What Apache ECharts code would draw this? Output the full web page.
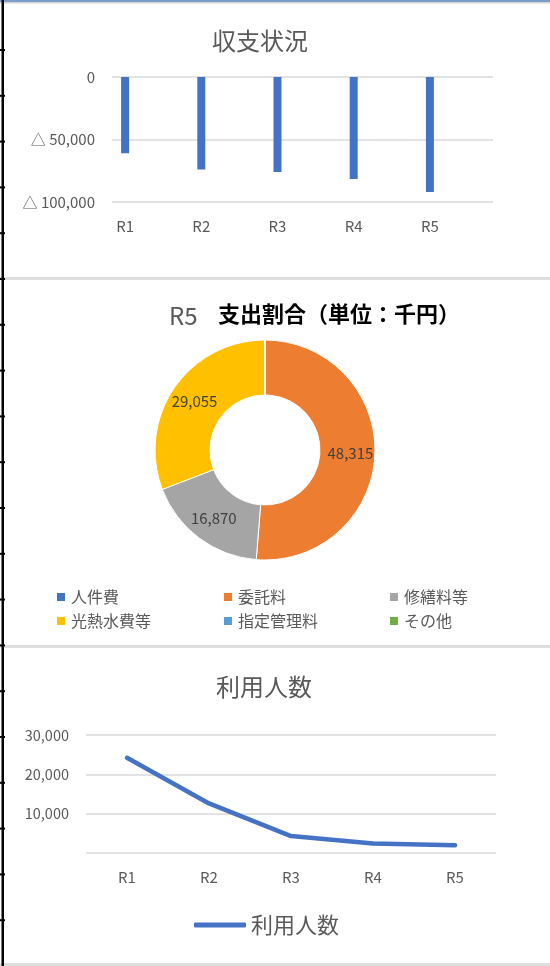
<!DOCTYPE html>
<html><head><meta charset="utf-8">
<script src="https://cdn.jsdelivr.net/npm/echarts@6/dist/echarts.min.js"></script>
<style>html,body{margin:0;padding:0;background:#fff}#c{width:550px;height:966px}</style>
</head><body><div id="c"></div>
<script>
// ---- data ----
const categories = ['R1', 'R2', 'R3', 'R4', 'R5'];
const balanceValues = [-61000, -74000, -76000, -81500, -92000];
const expenseNames = ['人件費', '委託料', '修繕料等', '光熱水費等', '指定管理料', 'その他'];
const expenseValues = [0, 48315, 16870, 29055, 0, 0];
const expenseColors = ['#4472C4', '#ED7D31', '#A5A5A5', '#FFC000', '#5B9BD5', '#70AD47'];
const visitorValues = [24200, 12600, 4300, 2400, 2000];

const FONT = '"Noto Sans CJK JP", "Noto Sans", sans-serif';
const GRAY = '#595959';
const fmt = v => Math.abs(v).toLocaleString('en-US');

const chart = echarts.init(document.getElementById('c'), null, {renderer: 'canvas'});

const decor = [];
decor.push({type: 'rect', shape: {x: 0, y: 0, width: 550, height: 2}, style: {fill: '#7a9cc8'}, silent: true});
decor.push({type: 'rect', shape: {x: 0, y: 2, width: 550, height: 1.5}, style: {fill: '#d4d4d4'}, silent: true});
decor.push({type: 'rect', shape: {x: 0, y: 277, width: 550, height: 3}, style: {fill: '#dedede'}, silent: true});
decor.push({type: 'rect', shape: {x: 0, y: 645, width: 550, height: 3}, style: {fill: '#dedede'}, silent: true});
decor.push({type: 'rect', shape: {x: 0, y: 963, width: 550, height: 3}, style: {fill: '#dedede'}, silent: true});
decor.push({type: 'rect', shape: {x: 1.5, y: 0, width: 2.5, height: 966}, style: {fill: '#000'}, silent: true});
for (let i = 0; i < 20; i++) {
  decor.push({type: 'rect', shape: {x: 0, y: 49 + i * 45.8, width: 5, height: 2}, style: {fill: '#000'}, silent: true});
}
const titles = [
  {type: 'text', x: 260, y: 41, style: {text: '収支状況', align: 'center', verticalAlign: 'middle', font: '24px ' + FONT, fill: GRAY}},
  {type: 'text', x: 169, y: 316, style: {text: 'R5', align: 'left', verticalAlign: 'middle', font: '24px ' + FONT, fill: GRAY}},
  {type: 'text', x: 218, y: 314, style: {text: '支出割合（単位：千円）', align: 'left', verticalAlign: 'middle', font: 'bold 22px ' + FONT, fill: '#000'}},
  {type: 'text', x: 264, y: 687, style: {text: '利用人数', align: 'center', verticalAlign: 'middle', font: '24px ' + FONT, fill: GRAY}}
];

const legendBase = {
  orient: 'vertical', icon: 'rect', itemWidth: 10, itemHeight: 10, itemGap: 8, selectedMode: false,
  textStyle: {fontFamily: FONT, fontSize: 16, color: GRAY, lineHeight: 16}, padding: 0
};

chart.setOption({
  animation: false,
  textStyle: {fontFamily: FONT},
  graphic: decor.concat(titles),
  grid: [
    {left: 87, top: 77, width: 381, height: 125},
    {left: 112, top: 77, width: 381, height: 125},
    {left: 86, top: 735, width: 410, height: 118}
  ],
  xAxis: [
    {type: 'category', gridIndex: 0, data: categories, position: 'bottom',
     axisLine: {show: false}, axisTick: {show: false},
     axisLabel: {color: GRAY, fontSize: 15, margin: 17, fontFamily: FONT}},
    {type: 'category', gridIndex: 1, data: categories, show: false},
    {type: 'category', gridIndex: 2, data: categories,
     axisLine: {show: false}, axisTick: {show: false},
     axisLabel: {color: GRAY, fontSize: 15, margin: 17, fontFamily: FONT}}
  ],
  yAxis: [
    {type: 'value', gridIndex: 0, min: -100000, max: 0, interval: 50000, show: false, splitLine: {show: false}},
    {type: 'value', gridIndex: 1, min: -100000, max: 0, interval: 50000,
     axisLine: {show: false}, axisTick: {show: false},
     splitLine: {lineStyle: {color: '#d9d9d9', width: 1.5}},
     axisLabel: {color: GRAY, fontSize: 15, margin: 17, fontFamily: FONT,
       formatter: v => v === 0 ? '0' : '△ ' + fmt(v)}},
    {type: 'value', gridIndex: 2, min: 0, max: 30000, interval: 10000,
     axisLine: {show: false}, axisTick: {show: false},
     splitLine: {lineStyle: {color: '#d9d9d9', width: 1.5}},
     axisLabel: {color: GRAY, fontSize: 14.5, margin: 17, fontFamily: FONT,
       formatter: v => v === 0 ? '' : fmt(v)}}
  ],
  legend: [
    Object.assign({}, legendBase, {data: ['人件費', '光熱水費等'], left: 55, top: 589}),
    Object.assign({}, legendBase, {data: ['委託料', '指定管理料'], left: 222, top: 589}),
    Object.assign({}, legendBase, {data: ['修繕料等', 'その他'], left: 388, top: 589}),
    {data: ['利用人数'], left: 194, top: 914, icon: 'roundRect', itemWidth: 52, itemHeight: 5, itemGap: 5,
     selectedMode: false, padding: 0,
     textStyle: {fontFamily: FONT, fontSize: 22, color: GRAY}}
  ],
  series: [
    {type: 'bar', name: '収支', xAxisIndex: 0, yAxisIndex: 0, data: balanceValues, barWidth: 8,
     itemStyle: {color: '#4472C4'}},
    {type: 'pie', name: '支出割合', center: [265, 450], radius: [55, 110], startAngle: 90, clockwise: true,
     color: expenseColors, avoidLabelOverlap: false,
     itemStyle: {borderColor: '#fff', borderWidth: 1},
     label: {show: true, position: 'inside', color: '#404040', fontSize: 15, fontFamily: FONT,
       formatter: p => p.value ? fmt(p.value) : ''},
     labelLine: {show: false},
     data: expenseNames.map((n, i) => ({name: n, value: expenseValues[i]}))},
    {type: 'line', name: '利用人数', xAxisIndex: 2, yAxisIndex: 2, data: visitorValues,
     symbol: 'none', lineStyle: {color: '#4472C4', width: 4.5, cap: 'round'}, itemStyle: {color: '#4472C4'}}
  ]
});
</script></body></html>
